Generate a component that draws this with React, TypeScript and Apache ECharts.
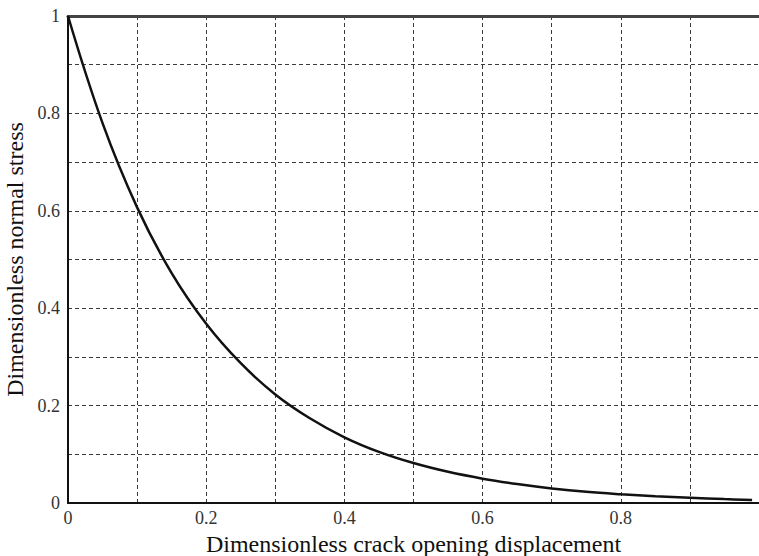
import React, { useEffect, useRef } from "react";
import * as echarts from "echarts";

const xValues = [0, 0.05, 0.1, 0.15, 0.2, 0.25, 0.3, 0.35, 0.4, 0.45, 0.5, 0.55, 0.6, 0.65, 0.7, 0.75, 0.8, 0.85, 0.9, 0.95, 0.99];
const stressValues = [1, 0.78, 0.607, 0.472, 0.368, 0.287, 0.223, 0.174, 0.135, 0.105, 0.082, 0.064, 0.05, 0.039, 0.03, 0.023, 0.018, 0.014, 0.011, 0.008, 0.006];
const xTickLabels = ["0", "0.2", "0.4", "0.6", "0.8"];
const yTickLabels = ["0", "0.2", "0.4", "0.6", "0.8", "1"];

const FONT = "'Liberation Serif', 'Times New Roman', serif";

export default function App() {
  const ref = useRef<HTMLDivElement>(null);
  useEffect(() => {
    if (!ref.current) return;
    const chart = echarts.init(ref.current, undefined, { renderer: "svg" });
    const fmt = (labels: string[]) => (v: number) => {
      const s = String(Math.round(v * 10) / 10);
      return labels.includes(s) ? s : "";
    };
    const gridLine = { show: true, lineStyle: { color: "#3a3a3a", width: 1, type: [4, 3] as any } };
    chart.setOption({
      animation: false,
      backgroundColor: "#fff",
      grid: { left: 68, right: 0, top: 16, bottom: 53, containLabel: false, outerBoundsMode: "none" },
      xAxis: [
        {
          type: "value",
          min: 0,
          max: 1,
          interval: 0.1,
          name: "Dimensionless crack opening displacement",
          nameLocation: "middle",
          nameGap: 21,
          nameTextStyle: { fontFamily: FONT, fontSize: 24, color: "#111" },
          axisLine: { show: true, onZero: false, lineStyle: { color: "#111", width: 2 } },
          axisTick: { show: false },
          axisLabel: { formatter: fmt(xTickLabels), fontFamily: FONT, fontSize: 18, color: "#333", margin: 6 },
          splitLine: gridLine,
        },
        {
          type: "value",
          position: "top",
          min: 0,
          max: 1,
          interval: 0.1,
          axisLine: { show: true, onZero: false, lineStyle: { color: "#444", width: 3 } },
          axisTick: { show: false },
          axisLabel: { show: false },
          splitLine: { show: false },
        },
      ],
      yAxis: {
        type: "value",
        min: 0,
        max: 1,
        interval: 0.1,
        name: "Dimensionless normal stress",
        nameLocation: "middle",
        nameGap: 36,
        nameTextStyle: { fontFamily: FONT, fontSize: 24, color: "#111" },
        axisLine: { show: true, onZero: false, lineStyle: { color: "#111", width: 2 } },
        axisTick: { show: false },
        axisLabel: { formatter: fmt(yTickLabels), fontFamily: FONT, fontSize: 18, color: "#333", margin: 8 },
        splitLine: gridLine,
      },
      series: [
        {
          type: "line",
          xAxisIndex: 0,
          data: xValues.map((x, i) => [x, stressValues[i]]),
          smooth: 0.4,
          showSymbol: false,
          lineStyle: { color: "#111", width: 2.5 },
        },
      ],
    });
    return () => chart.dispose();
  }, []);
  return <div ref={ref} style={{ position: "fixed", left: 0, top: 0, width: 759, height: 556 }} />;
}
